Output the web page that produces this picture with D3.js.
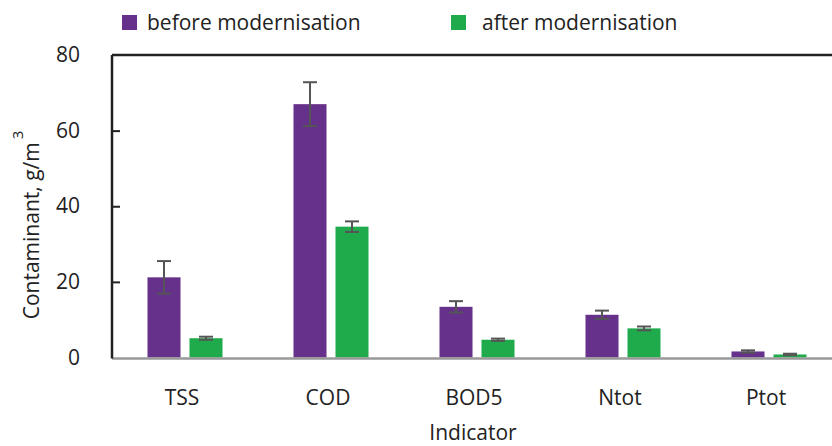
<!DOCTYPE html>
<html>
<head>
<meta charset="utf-8">
<script src="https://cdn.jsdelivr.net/npm/d3@7/dist/d3.min.js"></script>
<style>
  html, body { margin: 0; padding: 0; background: #fff; }
  svg { display: block; font-family: "Open Sans", sans-serif; }
</style>
</head>
<body>
<svg id="chart" width="832" height="446"></svg>
<script>
// Wastewater indicators before/after plant modernisation (g/m³), with error bars
const categories = ["TSS", "COD", "BOD5", "Ntot", "Ptot"];
const seriesNames = ["before modernisation", "after modernisation"];
const beforeValues = [21.2, 67.0, 13.4, 11.3, 1.6];
const beforeErrors = [4.3, 5.8, 1.5, 1.1, 0.3];
const afterValues = [5.1, 34.6, 4.7, 7.7, 0.8];
const afterErrors = [0.4, 1.4, 0.3, 0.5, 0.2];
const yTicks = [0, 20, 40, 60, 80];
const colors = ["#66318a", "#1fab4c"];

const svg = d3.select("#chart");
const plotLeft = 112, plotRight = 842, plotTop = 55, plotBottom = 357.5;

const x0 = d3.scaleBand().domain(categories).range([plotLeft, plotRight]).padding(0);
const x1 = d3.scaleBand().domain(seriesNames).range([35.5, 110.5]).paddingInner(0.214).paddingOuter(0);
const y = d3.scaleLinear().domain([0, 80]).range([plotBottom, plotTop]);

const rows = categories.map((c, i) => ({
  cat: c,
  vals: [
    { s: seriesNames[0], v: beforeValues[i], e: beforeErrors[i], col: colors[0] },
    { s: seriesNames[1], v: afterValues[i], e: afterErrors[i], col: colors[1] }
  ]
}));

// bars
const groups = svg.append("g").selectAll("g").data(rows).join("g")
  .attr("transform", d => `translate(${x0(d.cat)},0)`);

groups.selectAll("rect").data(d => d.vals).join("rect")
  .attr("x", d => x1(d.s))
  .attr("width", x1.bandwidth())
  .attr("y", d => y(d.v))
  .attr("height", d => y(0) - y(d.v))
  .attr("fill", d => d.col);

// error bars
const err = groups.selectAll("g.err").data(d => d.vals).join("g").attr("class", "err")
  .attr("stroke", "#555").attr("stroke-width", 2).attr("fill", "none");
err.append("line")
  .attr("x1", d => x1(d.s) + x1.bandwidth() / 2).attr("x2", d => x1(d.s) + x1.bandwidth() / 2)
  .attr("y1", d => y(d.v + d.e)).attr("y2", d => y(d.v - d.e));
[1, -1].forEach(sign => {
  err.append("line")
    .attr("x1", d => x1(d.s) + x1.bandwidth() / 2 - 7).attr("x2", d => x1(d.s) + x1.bandwidth() / 2 + 7)
    .attr("y1", d => y(d.v + sign * d.e)).attr("y2", d => y(d.v + sign * d.e));
});

// frame: top line, bottom baseline
svg.append("line").attr("x1", plotLeft).attr("x2", 832).attr("y1", plotTop).attr("y2", plotTop)
  .attr("stroke", "#222").attr("stroke-width", 2.5);
svg.append("line").attr("x1", plotLeft).attr("x2", 832).attr("y1", plotBottom + 1).attr("y2", plotBottom + 1)
  .attr("stroke", "#999").attr("stroke-width", 2.5);

// left axis with inward ticks
const yAxis = d3.axisLeft(y).tickValues(yTicks).tickSize(-8).tickPadding(32).tickFormat(d3.format("d"));
const ga = svg.append("g").attr("transform", `translate(${plotLeft},0)`).call(yAxis);
ga.select(".domain").attr("stroke", "#222").attr("stroke-width", 2.5)
  .attr("d", `M0,${plotTop}V${plotBottom + 1}`);
ga.selectAll(".tick line").attr("stroke", "#222").attr("stroke-width", 2)
  .filter(d => d === 0 || d === 80).remove();
ga.selectAll(".tick text").attr("font-size", 21).attr("fill", "#222")
  .attr("font-family", "Open Sans, sans-serif");

// category labels
svg.append("g").selectAll("text").data(categories).join("text")
  .attr("x", d => x0(d) + x0.bandwidth() / 2 - 3)
  .attr("y", 405)
  .attr("text-anchor", "middle")
  .attr("font-size", 21).attr("fill", "#222")
  .text(d => d);

// axis titles
svg.append("text").attr("x", 473).attr("y", 440).attr("text-anchor", "middle")
  .attr("font-size", 21).attr("fill", "#222").text("Indicator");

const yt = svg.append("text").attr("transform", "translate(39,225) rotate(-90)")
  .attr("text-anchor", "middle").attr("font-size", 21).attr("fill", "#222");
yt.append("tspan").text("Contaminant, g/m");
yt.append("tspan").attr("dy", -16).attr("dx", 3).attr("font-size", 15).text("3");

// legend
const legendItems = [
  { name: seriesNames[0], col: colors[0], sx: 122, tx: 147 },
  { name: seriesNames[1], col: colors[1], sx: 451, tx: 482 }
];
const lg = svg.append("g").selectAll("g").data(legendItems).join("g");
lg.append("rect").attr("x", d => d.sx).attr("y", 15).attr("width", 15).attr("height", 15)
  .attr("fill", d => d.col);
lg.append("text").attr("x", d => d.tx).attr("y", 30).attr("font-size", 21).attr("fill", "#222")
  .text(d => d.name);
</script>
</body>
</html>
